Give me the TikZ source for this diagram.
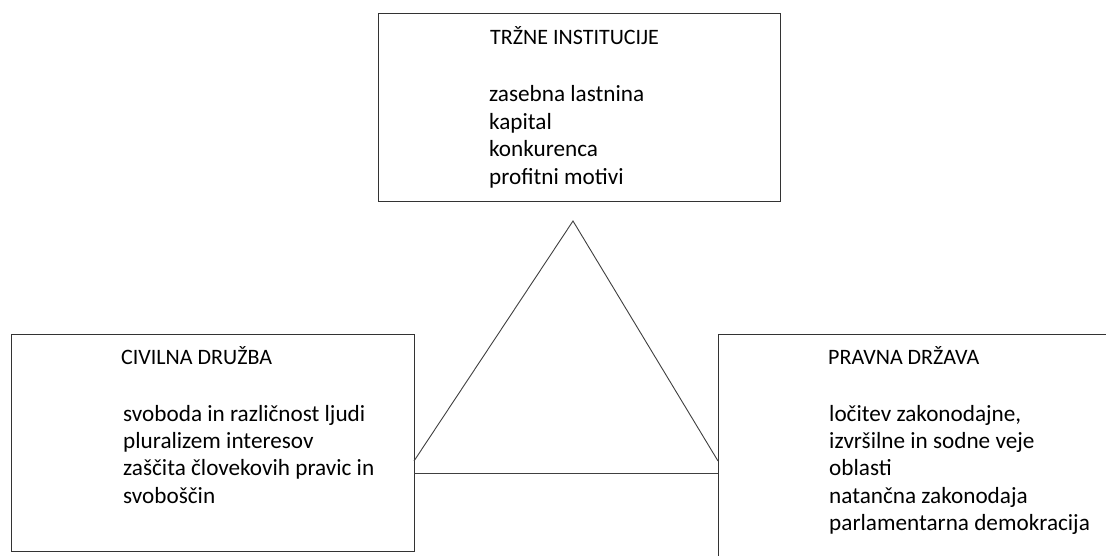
\documentclass[tikz,border=0pt]{standalone}
\usepackage{fontspec}
\setmainfont{Carlito}
\begin{document}
\begin{tikzpicture}[x=1pt,y=-1pt,
  box/.style={draw=black!80, line width=1pt, inner sep=0pt, outer sep=0pt},
  head/.style={anchor=base west, inner sep=0pt, font=\fontsize{22}{26}\selectfont},
  body/.style={anchor=base west, inner sep=0pt, font=\fontsize{23.2}{27.4}\selectfont},
  link/.style={draw=black!75, line width=0.9pt}]
\clip (0,0) rectangle (1106,556);
\fill[white] (0,0) rectangle (1106,556);

% the three boxes
\node[box, minimum width=402pt, minimum height=188pt] (trg) at (579,108) {};
\node[box, minimum width=403pt, minimum height=217pt] (civ) at (212.5,442.5) {};
\node[box, minimum width=402pt, minimum height=240pt, anchor=north west] (prav) at (718,334) {};

% box texts, one node per line
\node[head] (trgH) at (490,45) {TRŽNE INSTITUCIJE};
\foreach \t [count=\i] in {zasebna lastnina, kapital, konkurenca, profitni motivi}
  \node[body] (trgL\i) at (489,{102+27.4*(\i-1)}) {\t};

\node[head] (civH) at (121,364) {CIVILNA DRUŽBA};
\foreach \t [count=\i] in {svoboda in različnost ljudi, pluralizem interesov,
    zaščita človekovih pravic in, svoboščin}
  \node[body] (civL\i) at (123,{421+27.4*(\i-1)}) {\t};

\node[head] (pravH) at (828,364) {PRAVNA DRŽAVA};
\foreach \t [count=\i] in {{ločitev zakonodajne,}, izvršilne in sodne veje, oblasti,
    natančna zakonodaja, parlamentarna demokracija}
  \node[body] (pravL\i) at (829,{421+27.4*(\i-1)}) {\t};

% triangle between the boxes
\coordinate (apex) at (573,221);
\draw[link] (civ.east |- 0,461) -- (apex) -- (prav.west |- 0,461);
\draw[link] (civ.east |- 0,473) -- (prav.west |- 0,473);
\end{tikzpicture}
\end{document}
